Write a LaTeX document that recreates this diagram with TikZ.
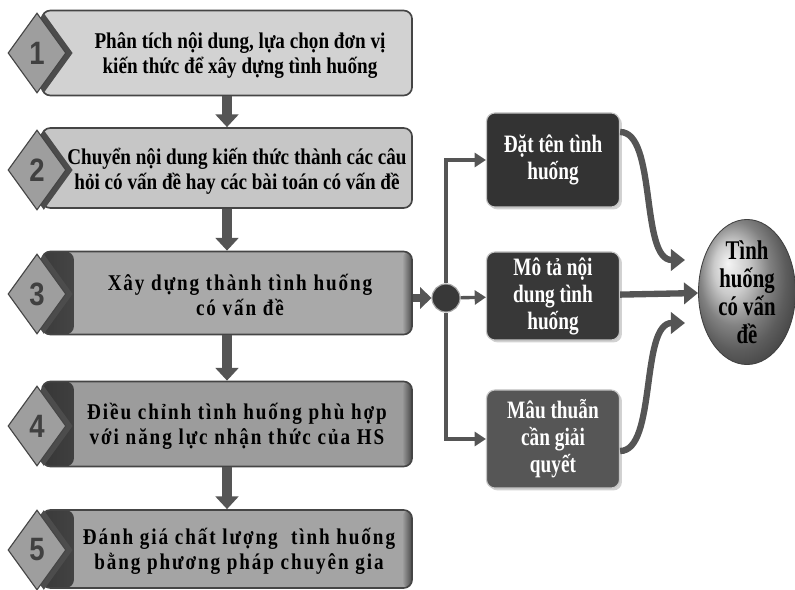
\documentclass[tikz,border=0pt]{standalone}
\usepackage{fontspec}
\setmainfont{Liberation Serif}
\setsansfont{Liberation Sans}
\usetikzlibrary{arrows.meta,shapes.geometric,shadows}

\definecolor{rimgray}{HTML}{454545}
\definecolor{numgray}{HTML}{9E9E9E}
\definecolor{arrowgray}{HTML}{555555}
\definecolor{fillA}{HTML}{D2D2D2}
\definecolor{fillB}{HTML}{C6C6C6}
\definecolor{fillC}{HTML}{A9A9A9}
\definecolor{fillD}{HTML}{9C9C9C}
\definecolor{fillE}{HTML}{A4A4A4}
\definecolor{darkA}{HTML}{333333}
\definecolor{darkB}{HTML}{383838}
\definecolor{darkC}{HTML}{565656}

\tikzset{
  stepbox/.style={rectangle, rounded corners=6pt, draw=rimgray, line width=1.2pt,
    fill=#1, minimum width=9.25cm, inner sep=0pt},
  banded/.style={path picture={
      \shade[left color=black!65!#1, right color=#1]
        (path picture bounding box.south west) rectangle ([xshift=0.8cm]path picture bounding box.north west);
      \shade[left color=#1, right color=black!55!#1]
        ([xshift=-0.25cm]path picture bounding box.south east) rectangle (path picture bounding box.north east);
    }},
  stepnum/.style={diamond, draw=rimgray, line width=0.8pt, fill=numgray,
    minimum width=1.45cm, minimum height=2cm, inner sep=0pt,
    drop shadow={shadow xshift=0.17cm, shadow yshift=0cm, fill=black!70, opacity=1},
    font=\sffamily\bfseries\fontsize{23}{23}\selectfont\addfontfeature{FakeStretch=0.85}, text=black!75},
  steptext/.style={align=center, font=\bfseries\fontsize{16}{17.8}\selectfont\addfontfeature{FakeStretch=0.85}},
  widetext/.style={steptext, font=\bfseries\fontsize{16}{17.8}\selectfont\addfontfeature{FakeStretch=0.85,LetterSpace=8.5}},
  sidebox/.style={rectangle, rounded corners=6pt, fill=#1, draw=gray!45, line width=0.8pt,
    minimum width=3.325cm, inner sep=0pt, text=white, align=center,
    drop shadow={shadow xshift=0.06cm, shadow yshift=-0.06cm, fill=gray!35, opacity=1},
    font=\bfseries\fontsize{17.8}{19.2}\selectfont\addfontfeature{FakeStretch=0.77}},
  fatarrow/.style={draw=arrowgray, line width=7pt, -{Triangle[width=16pt,length=9pt]}},
  branch/.style={draw=arrowgray, line width=2.4pt, -{Triangle[width=10pt,length=8pt]}},
  curvearrow/.style={draw=arrowgray, line width=4.5pt, -{Triangle[width=15pt,length=10pt]}}
}

\begin{document}
\begin{tikzpicture}[x=0.025cm,y=-0.025cm]
  \path[use as bounding box] (0,0) rectangle (795,590);

  % steps on the left
  \node[stepbox=fillA, minimum height=2.125cm] (s1) at (227,53) {};
  \node[stepbox=fillB, minimum height=2cm] (s2) at (227,168) {};
  \node[stepbox=fillC, banded=fillC, minimum height=2.075cm] (s3) at (227,293) {};
  \node[stepbox=fillD, banded=fillD, minimum height=2.125cm] (s4) at (227,424) {};
  \node[stepbox=fillE, banded=fillE, minimum height=1.95cm] (s5) at (227,549) {};

  \node[stepnum] (n1) at (37,53) {1};
  \node[stepnum] (n2) at (37,170) {2};
  \node[stepnum] (n3) at (37,294) {3};
  \node[stepnum] (n4) at (37,426) {4};
  \node[stepnum] (n5) at (37,550) {5};

  \node[steptext] (t1) at (240,56) {Phân tích nội dung, lựa chọn đơn vị\\kiến thức để xây dựng tình huống};
  \node[steptext] (t2) at (237,171) {Chuyển nội dung kiến thức thành các câu\\hỏi có vấn đề hay các bài toán có vấn đề};
  \node[widetext] (t3) at (240,295) {Xây dựng thành tình huống\\có vấn đề};
  \node[widetext] (t4) at (237,426) {Điều chỉnh tình huống phù hợp\\với năng lực nhận thức của HS};
  \node[widetext] (t5) at (239,551) {Đánh giá chất lượng~ tình huống\\bằng phương pháp chuyên gia};

  \draw[fatarrow] (s1.south) -- (s2.north);
  \draw[fatarrow] (s2.south) -- (s3.north);
  \draw[fatarrow] (s3.south) -- (s4.north);
  \draw[fatarrow] (s4.south) -- (s5.north);

  % branch to the right
  \node[circle, fill=black!78, draw=gray!70, line width=0.8pt, minimum size=0.7cm, inner sep=0pt] (jn) at (446,298) {};
  \draw[fatarrow, line width=6pt, -{Triangle[width=15pt,length=8pt]}] (s3.east |- jn) -- (jn);

  \node[sidebox=darkA, minimum height=2.35cm] (rA) at (553,160) {Đặt tên tình\\huống};
  \node[sidebox=darkB, minimum height=2.2cm] (rB) at (553,296) {Mô tả nội\\dung tình\\huống};
  \node[sidebox=darkC, minimum height=2.45cm] (rC) at (553,439) {Mâu thuẫn\\cần giải\\quyết};

  \draw[branch] (jn) |- (rA);
  \draw[branch] (jn) -- (rB);
  \draw[branch] (jn) |- (rC);

  % goal
  \node[ellipse, ball color=gray!55, draw=gray!50!black, line width=0.6pt,
        minimum width=2.425cm, minimum height=3.625cm, inner sep=0pt,
        label={[align=center, font=\bfseries\fontsize{19.2}{19.9}\selectfont\addfontfeature{FakeStretch=0.77}]center:Tình\\huống\\có vấn\\đề}] (goal) at (747,292) {};

  \coordinate (inA) at (685,260);
  \coordinate (inC) at (685,323);
  \draw[curvearrow] ([yshift=0.7cm]rA.east) .. controls (657,132) and (640,260) .. (inA);
  \draw[curvearrow] (rB) -- (goal);
  \draw[curvearrow] ([yshift=-0.3cm]rC.east) .. controls (657,451) and (640,323) .. (inC);
\end{tikzpicture}
\end{document}
